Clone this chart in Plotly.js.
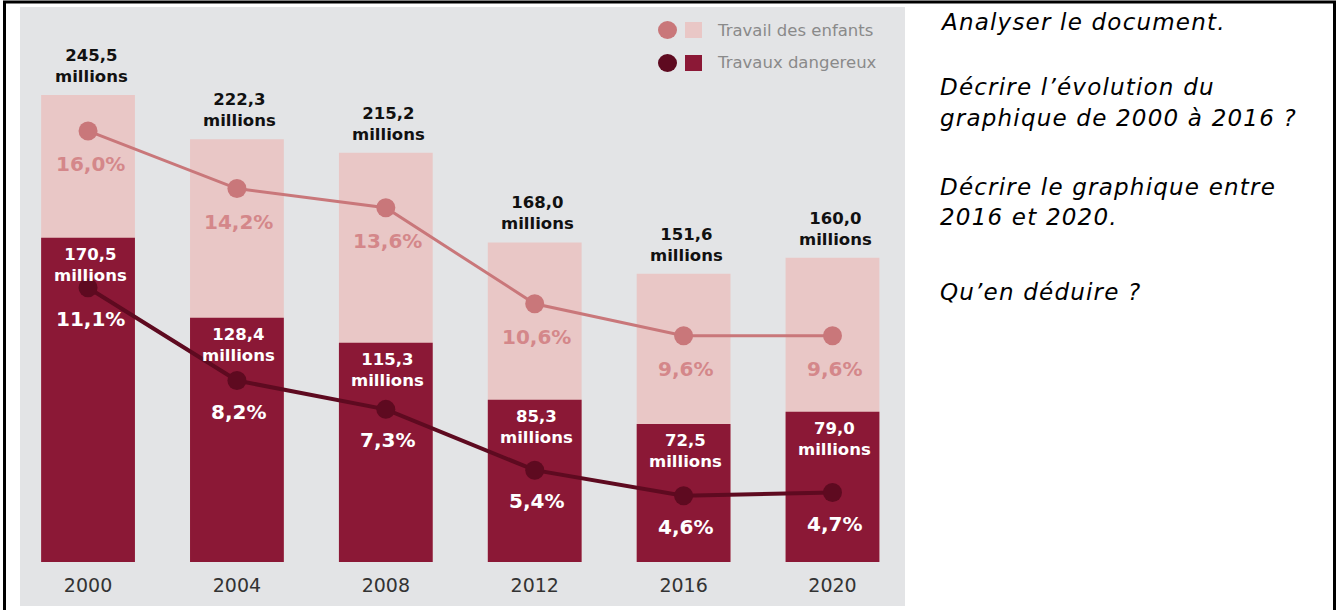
<!DOCTYPE html>
<html>
<head>
<meta charset="utf-8">
<script src="https://cdn.plot.ly/plotly-3.0.1.min.js"></script>
<style>
  html, body { margin: 0; padding: 0; background: #ffffff; }
  #chart { width: 1338px; height: 610px; }
</style>
</head>
<body>
<div id="chart"></div>
<script>
// ---- data ----
const years = ['2000', '2004', '2008', '2012', '2016', '2020'];
const totalMillions = [245.5, 222.3, 215.2, 168.0, 151.6, 160.0];
const hazardousMillions = [170.5, 128.4, 115.3, 85.3, 72.5, 79.0];
const childLabourPct = [16.0, 14.2, 13.6, 10.6, 9.6, 9.6];
const hazardousPct = [11.1, 8.2, 7.3, 5.4, 4.6, 4.7];
const legendLabels = ['Travail des enfants', 'Travaux dangereux'];
const questions = [
  'Analyser le document.',
  'Décrire l’évolution du',
  'graphique de 2000 à 2016 ?',
  'Décrire le graphique entre',
  '2016 et 2020.',
  'Qu’en déduire ?'
];

// ---- styling ----
const W = 1338, H = 610;
const M = { l: 20, r: 433, t: 10, b: 48 };
const PW = W - M.l - M.r, PH = H - M.t - M.b;
const px2x = px => (px - M.l) / PW;
const py2y = py => (H - M.b - py) / PH;

const C = {
  bg: '#e3e4e6',
  lightBar: '#e9c7c6',
  darkBar: '#8b1836',
  lightLine: '#c9777a',
  darkLine: '#5e0a20',
  lightPct: '#d4878a',
  legendText: '#8a8a8a'
};
const FONT = 'DejaVu Sans, Liberation Sans, Arial, sans-serif';
const fmt = v => v.toFixed(1).replace('.', ',');

const traces = [
  { type: 'bar', x: years, y: totalMillions, marker: { color: C.lightBar }, width: 0.63, yaxis: 'y', hoverinfo: 'skip' },
  { type: 'bar', x: years, y: hazardousMillions, marker: { color: C.darkBar }, width: 0.63, yaxis: 'y', hoverinfo: 'skip' },
  { type: 'scatter', mode: 'lines+markers', x: years, y: childLabourPct, yaxis: 'y2',
    line: { color: C.lightLine, width: 3 }, marker: { color: C.lightLine, size: 19 }, hoverinfo: 'skip' },
  { type: 'scatter', mode: 'lines+markers', x: years, y: hazardousPct, yaxis: 'y2',
    line: { color: C.darkLine, width: 4 }, marker: { color: C.darkLine, size: 19 }, hoverinfo: 'skip' }
];

const annotations = [];
years.forEach((yr, i) => {
  annotations.push({ x: i, y: totalMillions[i], xref: 'x', yref: 'y', yanchor: 'bottom', yshift: 7, xshift: 3,
    text: '<b>' + fmt(totalMillions[i]) + '<br>millions</b>', showarrow: false,
    font: { family: FONT, size: 16.5, color: '#111' } });
  annotations.push({ x: i, y: hazardousMillions[i], xref: 'x', yref: 'y', yanchor: 'top', yshift: -5, xshift: 2,
    text: '<b>' + fmt(hazardousMillions[i]) + '<br>millions</b>', showarrow: false,
    font: { family: FONT, size: 16.5, color: '#ffffff' } });
  annotations.push({ x: i, y: childLabourPct[i], xref: 'x', yref: 'y2', yanchor: 'middle', yshift: -33, xshift: 2,
    text: '<b>' + fmt(childLabourPct[i]) + '%</b>', showarrow: false,
    font: { family: FONT, size: 20, color: C.lightPct } });
  annotations.push({ x: i, y: hazardousPct[i], xref: 'x', yref: 'y2', yanchor: 'middle', yshift: -31, xshift: 2,
    text: '<b>' + fmt(hazardousPct[i]) + '%</b>', showarrow: false,
    font: { family: FONT, size: 20, color: '#ffffff' } });
});

// legend text
[30, 63].forEach((cy, k) => {
  annotations.push({ x: px2x(715), y: py2y(cy), xref: 'paper', yref: 'paper', xanchor: 'left', yanchor: 'middle',
    text: legendLabels[k], showarrow: false, font: { family: FONT, size: 16.5, color: C.legendText } });
});

// right-hand questions
const qY = [22, 87, 118, 187, 217, 292];
questions.forEach((q, k) => {
  annotations.push({ x: px2x(938), y: py2y(qY[k]), xref: 'paper', yref: 'paper', xanchor: 'left', yanchor: 'middle',
    text: '<span style="letter-spacing:1.2px">' + q + '</span>', showarrow: false,
    font: { family: FONT, size: 23, style: 'italic', color: '#000' } });
});

const shapes = [
  // gray panel
  { type: 'rect', xref: 'paper', yref: 'paper', x0: px2x(20), x1: px2x(905), y0: py2y(606), y1: py2y(7),
    fillcolor: C.bg, line: { width: 0 }, layer: 'below' },
  // outer frame
  { type: 'rect', xref: 'paper', yref: 'paper', x0: px2x(4.5), x1: px2x(1334.5), y0: py2y(614), y1: py2y(2),
    fillcolor: 'rgba(0,0,0,0)', line: { color: '#000', width: 3 }, layer: 'above' },
  // legend swatches
  { type: 'circle', xref: 'paper', yref: 'paper', x0: px2x(658), x1: px2x(677), y0: py2y(39), y1: py2y(21),
    fillcolor: C.lightLine, line: { width: 0 } },
  { type: 'rect', xref: 'paper', yref: 'paper', x0: px2x(685), x1: px2x(702), y0: py2y(38), y1: py2y(22),
    fillcolor: C.lightBar, line: { width: 0 } },
  { type: 'circle', xref: 'paper', yref: 'paper', x0: px2x(658), x1: px2x(677), y0: py2y(72), y1: py2y(54),
    fillcolor: C.darkLine, line: { width: 0 } },
  { type: 'rect', xref: 'paper', yref: 'paper', x0: px2x(685), x1: px2x(702), y0: py2y(71), y1: py2y(55),
    fillcolor: C.darkBar, line: { width: 0 } }
];

const layout = {
  width: W, height: H,
  margin: M,
  paper_bgcolor: '#ffffff',
  plot_bgcolor: 'rgba(0,0,0,0)',
  barmode: 'overlay',
  showlegend: false,
  hovermode: false,
  xaxis: { type: 'category', range: [-0.457, 5.487], showgrid: false, zeroline: false, showline: false,
    ticks: 'outside', ticklen: 6, tickcolor: 'rgba(0,0,0,0)',
    tickfont: { family: FONT, size: 19, color: '#333' }, fixedrange: true },
  yaxis: { range: [0, 290.2], visible: false, fixedrange: true },
  yaxis2: { range: [2.53, 19.78], overlaying: 'y', visible: false, fixedrange: true },
  shapes: shapes,
  annotations: annotations
};

Plotly.newPlot('chart', traces, layout, { displayModeBar: false, staticPlot: true });
</script>
</body>
</html>
